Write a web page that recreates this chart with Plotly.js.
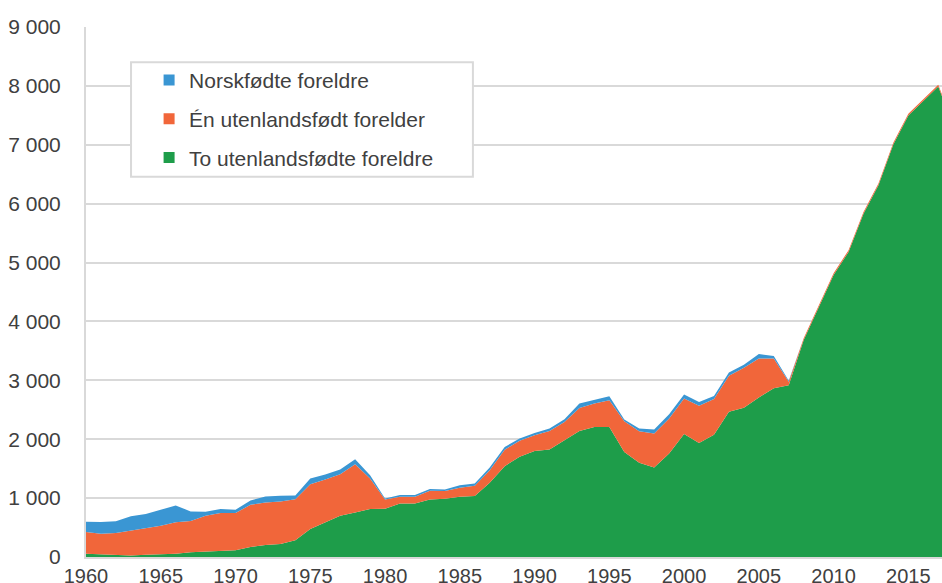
<!DOCTYPE html>
<html>
<head>
<meta charset="utf-8">
<script src="https://cdn.plot.ly/plotly-3.0.1.min.js"></script>
<style>html,body{margin:0;padding:0;background:#fff;}#chart{width:942px;height:583px;}</style>
</head>
<body>
<div id="chart"></div>
<script>
const years = [1960,1961,1962,1963,1964,1965,1966,1967,1968,1969,
  1970,1971,1972,1973,1974,1975,1976,1977,1978,1979,
  1980,1981,1982,1983,1984,1985,1986,1987,1988,1989,
  1990,1991,1992,1993,1994,1995,1996,1997,1998,1999,
  2000,2001,2002,2003,2004,2005,2006,2007,2008,2009,
  2010,2011,2012,2013,2014,2015,2016,2017,2018];

const toUtenlandsfodte = [55,45,25,25,40,45,56,79,90,107,
  113,169,203,220,283,475,582,701,757,814,
  819,910,910,977,989,1023,1034,1260,1542,1701,
  1802,1825,1983,2141,2209,2209,1785,1599,1520,1757,
  2090,1935,2075,2465,2533,2710,2867,2917,3686,4253,
  4789,5180,5829,6314,7007,7498,7738,7990,7320];

const enUtenlandsfodt = [370,350,382,421,446,486,532,531,610,639,
  633,718,724,724,697,762,734,706,819,519,
  158,113,113,147,130,152,175,215,278,271,
  266,316,311,390,396,452,520,537,576,593,
  603,635,610,613,681,661,504,57,30,30,
  30,30,30,30,30,30,30,30,30];

const norskfodte = [173,198,198,244,243,271,288,164,68,68,
  56,73,101,96,65,96,85,79,85,57,
  17,28,28,29,28,45,40,45,50,39,
  39,40,45,74,67,68,28,45,68,74,
  65,60,50,56,50,76,44,19,0,0,
  0,0,0,0,0,0,0,0,0];

const seriesNames = ["Norskfødte foreldre", "Én utenlandsfødt forelder", "To utenlandsfødte foreldre"];
const colors = {green: "#1e9d4a", orange: "#f1663a", blue: "#3a96d3"};

const traces = [
  {x: years, y: toUtenlandsfodte, name: seriesNames[2], stackgroup: "one", mode: "lines",
   line: {width: 0, color: colors.green}, fillcolor: colors.green, showlegend: false, hoverinfo: "skip"},
  {x: years, y: enUtenlandsfodt, name: seriesNames[1], stackgroup: "one", mode: "lines",
   line: {width: 0, color: colors.orange}, fillcolor: colors.orange, showlegend: false, hoverinfo: "skip"},
  {x: years, y: norskfodte, name: seriesNames[0], stackgroup: "one", mode: "lines",
   line: {width: 0, color: colors.blue}, fillcolor: colors.blue, showlegend: false, hoverinfo: "skip"},
  // legend entries (square markers)
  {x: [null], y: [null], name: seriesNames[0], mode: "markers", legendgroup: "a",
   marker: {symbol: "square", size: 11, color: colors.blue}},
  {x: [null], y: [null], name: seriesNames[1], mode: "markers", legendgroup: "b",
   marker: {symbol: "square", size: 11, color: colors.orange}},
  {x: [null], y: [null], name: seriesNames[2], mode: "markers", legendgroup: "c",
   marker: {symbol: "square", size: 11, color: colors.green}}
];

const grid = "#d9d9d9";
const layout = {
  width: 942, height: 583,
  margin: {l: 86, r: 0, t: 27, b: 26},
  paper_bgcolor: "#ffffff", plot_bgcolor: "#ffffff",
  font: {family: "Liberation Sans, Arial, sans-serif", size: 20, color: "#404040"},
  separators: ", ",
  showlegend: true,
  legend: {
    x: 0.0737, y: 0.938, xanchor: "left", yanchor: "top",
    bgcolor: "rgba(0,0,0,0)", borderwidth: 0,
    traceorder: "grouped", tracegroupgap: 8.5,
    font: {size: 21, color: "#404040"}
  },
  xaxis: {
    range: [1960, 2017.25], tick0: 1960, dtick: 5, tickmode: "linear",
    showgrid: false, zeroline: false,
    showline: true, linecolor: grid, linewidth: 2,
    ticks: "", tickfont: {size: 20, color: "#404040"}, fixedrange: true
  },
  yaxis: {
    range: [0, 9000], dtick: 1000, tick0: 0, tickmode: "linear",
    tickformat: ",d",
    showgrid: true, gridcolor: grid, gridwidth: 2,
    zeroline: false,
    showline: true, linecolor: grid, linewidth: 2,
    ticks: "", ticklabelstandoff: 19,
    tickfont: {size: 21, color: "#404040"}, fixedrange: true
  },
  shapes: [
    {type: "rect", xref: "paper", yref: "paper",
     x0: 0.0526, x1: 0.452, y0: 0.7175, y1: 0.9334,
     line: {color: grid, width: 2}, fillcolor: "#ffffff", layer: "above"}
  ]
};

Plotly.newPlot("chart", traces, layout, {staticPlot: true, displayModeBar: false});
</script>
</body>
</html>
